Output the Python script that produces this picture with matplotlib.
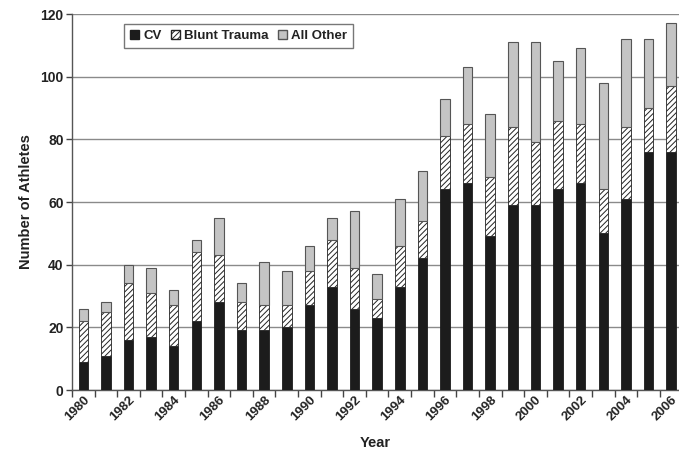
import matplotlib
matplotlib.use("Agg")
import matplotlib.pyplot as plt
from matplotlib.patches import Patch
from matplotlib.ticker import FixedLocator, NullFormatter
import numpy as np

years = list(range(1980, 2007))
cv = [9, 11, 16, 17, 14, 22, 28, 19, 19, 20, 27, 33, 26, 23, 33, 42,
      64, 66, 49, 59, 59, 64, 66, 50, 61, 76, 76]
blunt_top = [22, 25, 34, 31, 27, 44, 43, 28, 27, 27, 38, 48, 39, 29, 46, 54,
             81, 85, 68, 84, 79, 86, 85, 64, 84, 90, 97]
total = [26, 28, 40, 39, 32, 48, 55, 34, 41, 38, 46, 55, 57, 37, 61, 70,
         93, 103, 88, 111, 111, 105, 109, 98, 112, 112, 117]
blunt = [b - c for b, c in zip(blunt_top, cv)]
other = [t - b for t, b in zip(total, blunt_top)]

plt.rcParams['font.family'] = ['Liberation Sans', 'DejaVu Sans']
plt.rcParams['font.weight'] = 'bold'
plt.rcParams['hatch.linewidth'] = 0.7

fig = plt.figure(figsize=(6.79, 4.51), dpi=100)
ax = fig.add_axes([72/679, 1-390/451, 1-72/679, (390-14)/451])

x = np.arange(len(years))
w = 0.42
ax.bar(x, cv, w, color='#1c1c1c', edgecolor='#1c1c1c', linewidth=0.6, zorder=3)
ax.bar(x, blunt, w, bottom=cv, color='white', edgecolor='#222222',
       hatch='//////', linewidth=0.6, zorder=3)
ax.bar(x, other, w, bottom=blunt_top, color='#c4c4c4', edgecolor='#555555',
       linewidth=0.8, zorder=3)

ax.set_ylim(0, 120)
ax.set_xlim(-0.5, 26.35)
ax.set_yticks(range(0, 121, 20))
ax.yaxis.grid(True, color='#8a8a8a', linewidth=1.0, zorder=0)
ax.set_axisbelow(True)

for s in ['top', 'right']:
    ax.spines[s].set_visible(False)
ax.spines['left'].set_color('#555555')
ax.spines['bottom'].set_color('#555555')
ax.spines['left'].set_linewidth(1.0)
ax.spines['bottom'].set_linewidth(1.0)

label_pos = x[::2]
ax.set_xticks(label_pos)
ax.set_xticklabels([str(years[i]) for i in label_pos], rotation=45,
                   ha='right', va='top', rotation_mode='anchor',
                   fontsize=9.5, fontweight='bold', color='#222222')
ax.tick_params(axis='x', which='major', length=0, pad=3)
ax.xaxis.set_minor_locator(FixedLocator(np.arange(-0.5, 26.6, 1.0)))
ax.xaxis.set_minor_formatter(NullFormatter())
ax.tick_params(axis='x', which='minor', length=5, width=1.0, color='#444444')
ax.tick_params(axis='y', length=4, width=1.0, color='#444444', labelsize=10,
               labelcolor='#222222', pad=2)
for lab in ax.get_yticklabels():
    lab.set_fontweight('bold')

ax.set_ylabel('Number of Athletes', fontsize=10.5, fontweight='bold',
              color='#222222', labelpad=5)
ax.set_xlabel('Year', fontsize=10.5, fontweight='bold', color='#222222',
              labelpad=9)

handles = [Patch(facecolor='#1c1c1c', edgecolor='#1c1c1c', label='CV'),
           Patch(facecolor='white', edgecolor='#222222', hatch='//////',
                 label='Blunt Trauma'),
           Patch(facecolor='#c4c4c4', edgecolor='#555555', label='All Other')]
leg = ax.legend(handles=handles, ncol=3, loc='upper left',
                bbox_to_anchor=(0.0857, 0.973), borderaxespad=0,
                frameon=True, fancybox=False,
                handlelength=0.7, handleheight=0.7, handletextpad=0.3,
                columnspacing=0.7, borderpad=0.45,
                prop={'weight': 'bold', 'size': 9.5})
leg.get_frame().set_edgecolor('#555555')
leg.get_frame().set_linewidth(1.0)
for t in leg.get_texts():
    t.set_color('#222222')

fig.savefig('out.png', dpi=100)
